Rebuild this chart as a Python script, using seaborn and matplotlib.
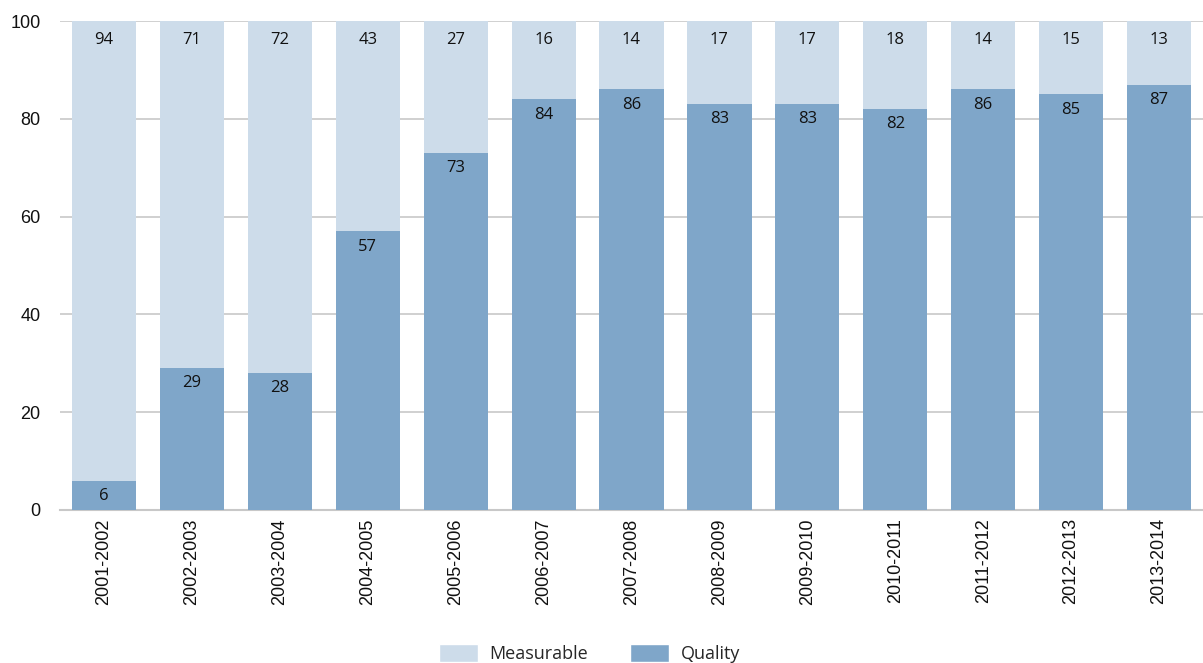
import matplotlib
matplotlib.use("Agg")
import matplotlib.pyplot as plt
import seaborn as sns
import pandas as pd
from matplotlib.patches import Patch

periods = ["2001-2002", "2002-2003", "2003-2004", "2004-2005", "2005-2006", "2006-2007",
           "2007-2008", "2008-2009", "2009-2010", "2010-2011", "2011-2012", "2012-2013", "2013-2014"]
quality = [6, 29, 28, 57, 73, 84, 86, 83, 83, 82, 86, 85, 87]
measurable = [94, 71, 72, 43, 27, 16, 14, 17, 17, 18, 14, 15, 13]

light = "#cddcea"
dark = "#7fa6c9"

sns.set_theme(style="white")
plt.rcParams["font.family"] = ["Open Sans", "DejaVu Sans"]

df = pd.DataFrame({"period": periods, "quality": quality, "measurable": measurable})
df["total"] = df["quality"] + df["measurable"]

fig = plt.figure(figsize=(12.03, 6.63), dpi=100)
ax = fig.add_axes([0.0499, 0.2308, 0.9501, 0.7375])

sns.barplot(data=df, x="period", y="total", color=light, width=0.73, saturation=1,
            linewidth=0, edgecolor="none", ax=ax, zorder=2)
sns.barplot(data=df, x="period", y="quality", color=dark, width=0.73, saturation=1,
            linewidth=0, edgecolor="none", ax=ax, zorder=3)

for i, (q, m) in enumerate(zip(quality, measurable)):
    ax.annotate(str(q), (i, q), xytext=(0, -11), textcoords="offset points",
                ha="center", va="center", fontsize=12, color="#111111", zorder=5)
    ax.annotate(str(m), (i, q + m), xytext=(0, -13.5), textcoords="offset points",
                ha="center", va="center", fontsize=12, color="#111111", zorder=5)

ax.set_xlim(-0.5, len(periods) - 0.5)
ax.set_ylim(0, 100)
ax.set_yticks([0, 20, 40, 60, 80, 100])
ax.yaxis.grid(True, color="#c8c8c8", linewidth=1.2, zorder=0)
ax.set_axisbelow(True)
for s in ["left", "right", "top"]:
    ax.spines[s].set_visible(False)
ax.spines["bottom"].set_color("#c8c8c8")
ax.spines["bottom"].set_linewidth(1.5)
ax.tick_params(axis="both", length=0, labelsize=13, colors="#111111")
ax.tick_params(axis="y", pad=14)
ax.tick_params(axis="x", pad=6)
for lab in ax.get_xticklabels() + ax.get_yticklabels():
    lab.set_family(["Liberation Sans", "DejaVu Sans"])
plt.setp(ax.get_xticklabels(), rotation=90)
ax.set_xlabel("")
ax.set_ylabel("")

handles = [Patch(facecolor=light, label="Measurable"), Patch(facecolor=dark, label="Quality")]
fig.legend(handles=handles, loc="lower center", bbox_to_anchor=(0.49, -0.025), ncol=2,
           frameon=False, fontsize=13, handlelength=2.15, handleheight=1.15,
           columnspacing=2.3, handletextpad=0.67)

fig.savefig("out.png", dpi=100)
